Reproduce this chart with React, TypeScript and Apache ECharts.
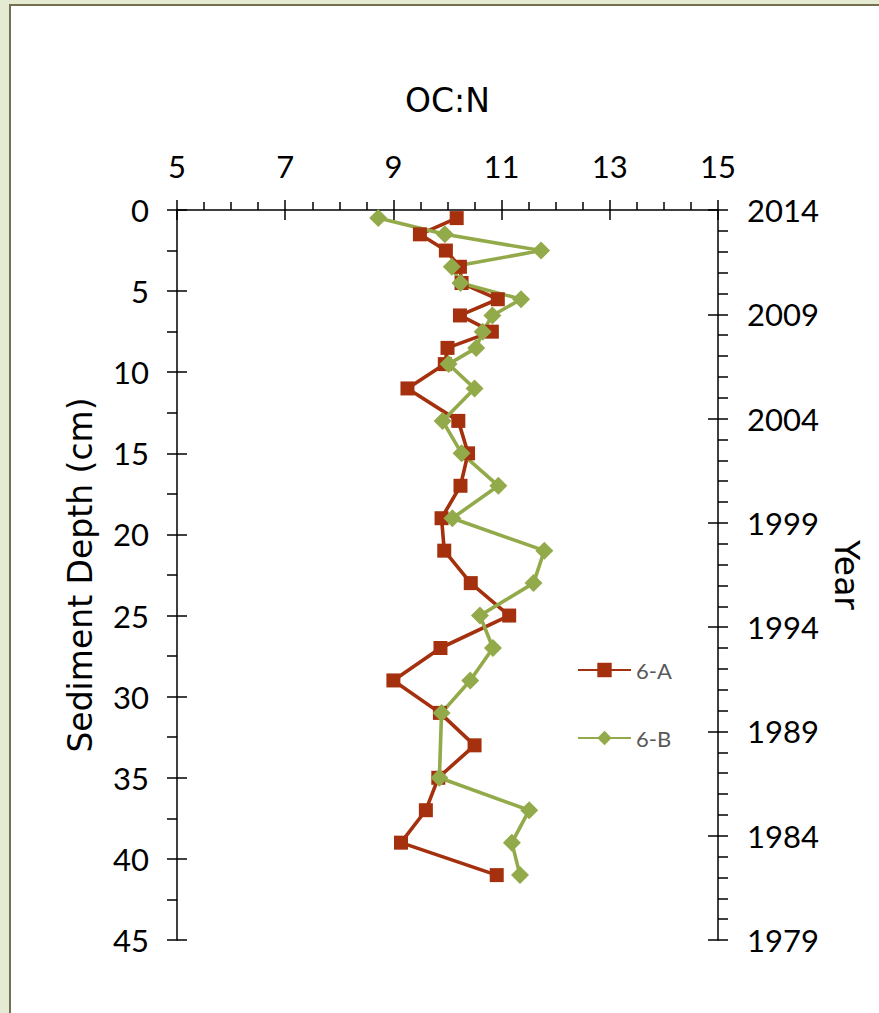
import React, { useEffect, useRef } from "react";
import * as echarts from "echarts";

// Sediment core 6: organic carbon to nitrogen ratio by depth
const depthA = [0.5, 1.5, 2.5, 3.5, 4.5, 5.5, 6.5, 7.5, 8.5, 9.5, 11, 13, 15, 17, 19, 21, 23, 25, 27, 29, 31, 33, 35, 37, 39, 41];
const ocnA = [10.17, 9.49, 9.97, 10.23, 10.26, 10.93, 10.23, 10.82, 10.0, 9.95, 9.26, 10.2, 10.38, 10.24, 9.89, 9.94, 10.43, 11.14, 9.87, 9.0, 9.86, 10.5, 9.83, 9.6, 9.14, 10.91];

const depthB = [0.5, 1.5, 2.5, 3.5, 4.5, 5.5, 6.5, 7.5, 8.5, 9.5, 11, 13, 15, 17, 19, 21, 23, 25, 27, 29, 31, 35, 37, 39, 41];
const ocnB = [8.72, 9.95, 11.73, 10.08, 10.24, 11.36, 10.83, 10.65, 10.53, 10.02, 10.5, 9.91, 10.26, 10.94, 10.09, 11.79, 11.59, 10.6, 10.84, 10.42, 9.89, 9.85, 11.51, 11.19, 11.34];

const seriesNames = ["6-A", "6-B"];

// Axis ranges
const ocnRange = [5, 15];
const ocnStep = 2;
const depthRange = [0, 45];
const depthStep = 5;
const yearTop = 2014;
const yearSpan = 35; // 2014 down to 1979
const yearStep = 5;

const RED = "#a4300e";
const GREEN = "#93aa4a";
const LABEL_FONT = "Lato, 'Open Sans', sans-serif";
const TITLE_FONT = "'DejaVu Sans', 'Open Sans', sans-serif";

const tickLine = { color: "#000", width: 1.5 };

export default function App() {
  const ref = useRef<HTMLDivElement>(null);

  useEffect(() => {
    if (!ref.current) return;
    const chart = echarts.init(ref.current, undefined, { renderer: "svg" });

    const gridRect = {
      left: 177,
      right: 161,
      top: 210,
      bottom: 73,
      containLabel: false,
      outerBoundsMode: "none",
    };

    const option: any = {
      animation: false,
      textStyle: { fontFamily: LABEL_FONT },
      grid: [gridRect, { ...gridRect }],
      legend: {
        data: seriesNames,
        orient: "vertical",
        left: 572,
        top: 654,
        itemWidth: 53,
        itemHeight: 18,
        itemGap: 46,
        textStyle: { fontSize: 22, color: "#595959", fontFamily: LABEL_FONT },
      },
      xAxis: [
        {
          type: "value",
          gridIndex: 0,
          position: "top",
          min: ocnRange[0],
          max: ocnRange[1],
          interval: ocnStep,
          name: "OC:N",
          nameLocation: "middle",
          nameGap: 93,
          nameTextStyle: { fontSize: 33, color: "#000", fontFamily: TITLE_FONT },
          axisLine: { show: true, onZero: false, lineStyle: tickLine },
          axisTick: { show: true, length: 10, lineStyle: tickLine },
          minorTick: { show: true, splitNumber: 4, length: 8, lineStyle: tickLine },
          axisLabel: { fontSize: 31, color: "#000", margin: 29, fontFamily: LABEL_FONT },
          splitLine: { show: false },
        },
        {
          type: "value",
          gridIndex: 1,
          position: "top",
          min: ocnRange[0],
          max: ocnRange[1],
          interval: ocnStep,
          axisLine: { show: false },
          axisTick: { show: true, inside: true, length: 10, lineStyle: tickLine },
          axisLabel: { show: false },
          splitLine: { show: false },
        },
      ],
      yAxis: [
        {
          type: "value",
          gridIndex: 0,
          position: "left",
          inverse: true,
          min: depthRange[0],
          max: depthRange[1],
          interval: depthStep,
          name: "Sediment Depth (cm)",
          nameLocation: "middle",
          nameGap: 80,
          nameTextStyle: { fontSize: 33, color: "#000", fontFamily: TITLE_FONT },
          axisLine: { show: true, onZero: false, lineStyle: tickLine },
          axisTick: { show: true, length: 10, lineStyle: tickLine },
          minorTick: { show: true, splitNumber: 2, length: 10, lineStyle: tickLine },
          axisLabel: { fontSize: 31, color: "#000", margin: 28, fontFamily: LABEL_FONT },
          splitLine: { show: false },
        },
        {
          type: "value",
          gridIndex: 0,
          position: "right",
          inverse: true,
          min: 0,
          max: yearSpan,
          interval: yearStep,
          name: "Year",
          nameLocation: "middle",
          nameGap: 112,
          nameRotate: -90,
          nameTextStyle: { fontSize: 33, color: "#000", fontFamily: TITLE_FONT },
          axisLine: { show: true, onZero: false, lineStyle: tickLine },
          axisTick: { show: true, length: 10, lineStyle: tickLine },
          minorTick: { show: true, splitNumber: 5, length: 10, lineStyle: tickLine },
          axisLabel: {
            fontSize: 31,
            color: "#000",
            margin: 29,
            fontFamily: LABEL_FONT,
            formatter: (v: number) => String(yearTop - v),
          },
          splitLine: { show: false },
        },
        {
          type: "value",
          gridIndex: 1,
          position: "left",
          inverse: true,
          min: depthRange[0],
          max: depthRange[1],
          interval: depthStep,
          axisLine: { show: false },
          axisTick: { show: true, inside: true, length: 10, lineStyle: tickLine },
          axisLabel: { show: false },
          splitLine: { show: false },
        },
        {
          type: "value",
          gridIndex: 1,
          position: "right",
          inverse: true,
          min: 0,
          max: yearSpan,
          interval: yearStep,
          axisLine: { show: false },
          axisTick: { show: true, inside: true, length: 10, lineStyle: tickLine },
          axisLabel: { show: false },
          splitLine: { show: false },
        },
      ],
      series: [
        {
          name: seriesNames[0],
          type: "line",
          xAxisIndex: 0,
          yAxisIndex: 0,
          data: depthA.map((d, i) => [ocnA[i], d]),
          symbol: "rect",
          symbolSize: 14,
          lineStyle: { color: RED, width: 3.6 },
          itemStyle: { color: RED },
        },
        {
          name: seriesNames[1],
          type: "line",
          xAxisIndex: 0,
          yAxisIndex: 0,
          data: depthB.map((d, i) => [ocnB[i], d]),
          symbol: "diamond",
          symbolSize: 18,
          lineStyle: { color: GREEN, width: 3.6 },
          itemStyle: { color: GREEN },
        },
      ],
    };

    chart.setOption(option);
    return () => chart.dispose();
  }, []);

  return (
    <div style={{ position: "absolute", left: 0, top: 0, width: 879, height: 1013, background: "#e5ebd2", overflow: "hidden" }}>
      <div
        style={{
          position: "absolute",
          left: 9,
          top: 4,
          right: 0,
          bottom: 0,
          background: "#fff",
          borderLeft: "2px solid #756f52",
          borderTop: "2px solid #756f52",
        }}
      />
      <div ref={ref} style={{ position: "absolute", left: 0, top: 0, width: 879, height: 1013 }} />
    </div>
  );
}
